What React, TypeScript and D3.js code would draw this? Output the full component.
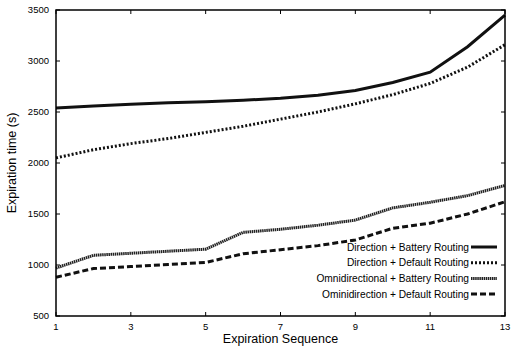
import React from 'react';
import * as d3 from 'd3';

const sequence = [1, 2, 3, 4, 5, 6, 7, 8, 9, 10, 11, 12, 13];
const dirBattery = [2540, 2560, 2575, 2590, 2600, 2615, 2635, 2665, 2710, 2790, 2890, 3140, 3450];
const dirDefault = [2050, 2130, 2190, 2240, 2300, 2360, 2430, 2500, 2580, 2670, 2780, 2940, 3160];
const omniBattery = [970, 1095, 1115, 1135, 1155, 1320, 1350, 1390, 1440, 1560, 1615, 1680, 1780];
const omniDefault = [880, 965, 985, 1005, 1025, 1110, 1150, 1190, 1245, 1360, 1410, 1500, 1620];
const seriesNames = [
  'Direction + Battery Routing',
  'Direction + Default Routing',
  'Omnidirectional + Battery Routing',
  'Ominidirection + Default Routing',
];
const xTicks = [1, 3, 5, 7, 9, 11, 13];
const yTicks = [500, 1000, 1500, 2000, 2500, 3000, 3500];

const styles = [
  { dash: null, color: '#111' },
  { dash: '2,2', color: '#111' },
  { dash: '1.5,0.6', color: '#222' },
  { dash: '6,3', color: '#111' },
];

const App = () => {
  const width = 514;
  const height = 350;
  const margin = { top: 10, right: 9, bottom: 34, left: 56 };

  const x = d3.scaleLinear().domain([1, 13]).range([margin.left, width - margin.right]);
  const y = d3.scaleLinear().domain([500, 3500]).range([height - margin.bottom, margin.top]);

  const allSeries = [dirBattery, dirDefault, omniBattery, omniDefault];
  const line = d3
    .line<number>()
    .x((_, i) => x(sequence[i]))
    .y(d => y(d));

  const x0 = x.range()[0];
  const x1 = x.range()[1];
  const y0 = y.range()[0];
  const y1 = y.range()[1];
  const font = 'Liberation Sans, Arial, sans-serif';

  return (
    <svg width={width} height={height} style={{ position: 'absolute', left: 0, top: 0, background: '#fff' }}>
      {/* plot lines */}
      {allSeries.map((s, i) => (
        <path
          key={i}
          d={line(s) || ''}
          fill="none"
          stroke={styles[i].color}
          strokeWidth={3}
          strokeDasharray={styles[i].dash || undefined}
        />
      ))}

      {/* frame */}
      <rect x={x0} y={y1} width={x1 - x0} height={y0 - y1} fill="none" stroke="#000" strokeWidth={1.5} />

      {/* y ticks */}
      {yTicks.map(t => (
        <g key={t}>
          <line x1={x0} x2={x0 + 4} y1={y(t)} y2={y(t)} stroke="#000" />
          <line x1={x1} x2={x1 - 4} y1={y(t)} y2={y(t)} stroke="#000" />
          <text x={x0 - 7} y={y(t)} dy="0.35em" textAnchor="end" fontSize={9.5} fontFamily={font}>
            {t}
          </text>
        </g>
      ))}

      {/* x ticks */}
      {xTicks.map(t => (
        <g key={t}>
          <line x1={x(t)} x2={x(t)} y1={y0} y2={y0 - 4} stroke="#000" />
          <line x1={x(t)} x2={x(t)} y1={y1} y2={y1 + 4} stroke="#000" />
          <text x={x(t)} y={y0 + 14} textAnchor="middle" fontSize={9.5} fontFamily={font}>
            {t}
          </text>
        </g>
      ))}

      {/* axis labels */}
      <text x={(x0 + x1) / 2} y={height - 7} textAnchor="middle" fontSize={12.5} fontFamily={font}>
        Expiration Sequence
      </text>
      <text
        transform={`translate(16, ${(y0 + y1) / 2}) rotate(-90)`}
        textAnchor="middle"
        fontSize={12.5}
        fontFamily={font}
      >
        Expiration time (s)
      </text>

      {/* legend */}
      {seriesNames.map((name, i) => {
        const ly = 247 + i * 15.7;
        return (
          <g key={name}>
            <text x={469} y={ly} dy="0.35em" textAnchor="end" fontSize={10.2} fontFamily={font}>
              {name}
            </text>
            <line
              x1={471}
              x2={497}
              y1={ly}
              y2={ly}
              stroke={styles[i].color}
              strokeWidth={3}
              strokeDasharray={styles[i].dash || undefined}
            />
          </g>
        );
      })}
    </svg>
  );
};

export default App;
